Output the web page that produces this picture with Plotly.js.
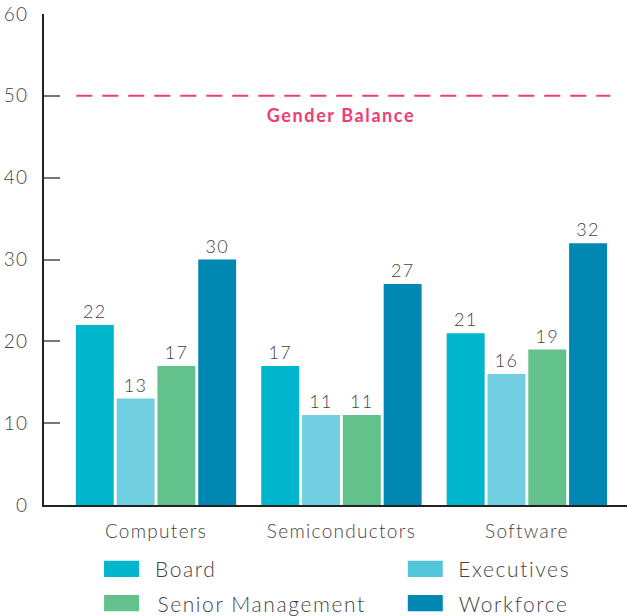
<!DOCTYPE html>
<html lang="en">
<head>
  <meta charset="UTF-8">
  <title>Women in Tech</title>
  <script src="https://cdn.plot.ly/plotly-3.0.1.min.js"></script>
  <style>
    body { margin: 0; background: white; }
    #chart { width: 627px; height: 616px; }
    #chart text { letter-spacing: 1.3px; }
    #chart .annotation-text { letter-spacing: 1.6px; }
  </style>
</head>
<body>
  <div id="chart"></div>
  <script>
    // Data
    const categories = ['Computers', 'Semiconductors', 'Software'];
    const seriesNames = ['Board', 'Executives', 'Senior Management', 'Workforce'];
    const board = [22, 17, 21];
    const executives = [13, 11, 16];
    const seniorMgmt = [17, 11, 19];
    const workforce = [30, 27, 32];
    const genderBalance = 50;
    const yTicks = [0, 10, 20, 30, 40, 50, 60];

    const barColors = ['#00b5cc', '#71cde0', '#63c18b', '#0088b3'];
    const legendColors = ['#00b5cc', '#52c5d8', '#63c18b', '#0088b3'];
    const fontFamily = 'Lato, "Open Sans", sans-serif';
    const textColor = '#444';

    const values = [board, executives, seniorMgmt, workforce];
    const data = seriesNames.map((name, i) => ({
      type: 'bar',
      name: name,
      x: categories,
      y: values[i],
      marker: { color: barColors[i] },
      text: values[i].map(String),
      textposition: 'outside',
      textfont: { family: fontFamily, size: 18, weight: 300, color: textColor },
      cliponaxis: false,
      hoverinfo: 'x+y+name'
    }));

    // custom legend: swatch shapes + centred labels, two columns
    const legendSwatch = [
      { x: 0.103, y: -0.130 },
      { x: 0.624, y: -0.130 },
      { x: 0.103, y: -0.200 },
      { x: 0.624, y: -0.200 }
    ];
    const legendTextX = [0.2419, 0.807, 0.3731, 0.8053];

    const shapes = [{
      type: 'line', xref: 'x', yref: 'y',
      x0: -0.43, x1: 2.45, y0: genderBalance, y1: genderBalance,
      line: { color: '#ee3d73', width: 2, dash: '16px,10px' }
    }];
    const annotations = [{
      xref: 'x', yref: 'y', x: 1, y: genderBalance,
      text: '<b>Gender Balance</b>', showarrow: false,
      yshift: -19, font: { family: fontFamily, size: 18, color: '#ee3d73' }
    }];
    seriesNames.forEach((name, i) => {
      const p = legendSwatch[i];
      shapes.push({
        type: 'rect', xref: 'paper', yref: 'paper',
        x0: p.x, x1: p.x + 0.06, y0: p.y - 0.0165, y1: p.y + 0.0165,
        fillcolor: legendColors[i], line: { width: 0 }
      });
      annotations.push({
        xref: 'paper', yref: 'paper', x: legendTextX[i], y: p.y,
        xanchor: 'center', yanchor: 'middle', text: name, showarrow: false,
        font: { family: fontFamily, size: 21, weight: 300, color: textColor }
      });
    });

    const layout = {
      width: 627,
      height: 616,
      margin: { l: 44, r: 0, t: 14, b: 111 },
      barmode: 'group',
      bargap: 0.12,
      bargroupgap: 0.07,
      showlegend: false,
      plot_bgcolor: 'white',
      paper_bgcolor: 'white',
      font: { family: fontFamily, color: textColor, weight: 300 },
      xaxis: {
        type: 'category',
        range: [-0.604, 2.54],
        showline: true,
        linecolor: '#222',
        linewidth: 1.5,
        ticks: '',
        ticklabelstandoff: 8,
        tickfont: { family: fontFamily, size: 19, weight: 300, color: textColor },
        fixedrange: true
      },
      yaxis: {
        range: [0, 60],
        tickvals: yTicks,
        showgrid: false,
        zeroline: false,
        showline: true,
        linecolor: '#222',
        linewidth: 1.5,
        ticks: 'inside',
        ticklen: 16,
        tickcolor: '#777',
        tickwidth: 1.5,
        ticklabelstandoff: 10,
        tickfont: { family: fontFamily, size: 19, weight: 300, color: textColor },
        fixedrange: true
      },
      shapes: shapes,
      annotations: annotations
    };

    Plotly.newPlot('chart', data, layout, { displayModeBar: false });
  </script>
</body>
</html>
